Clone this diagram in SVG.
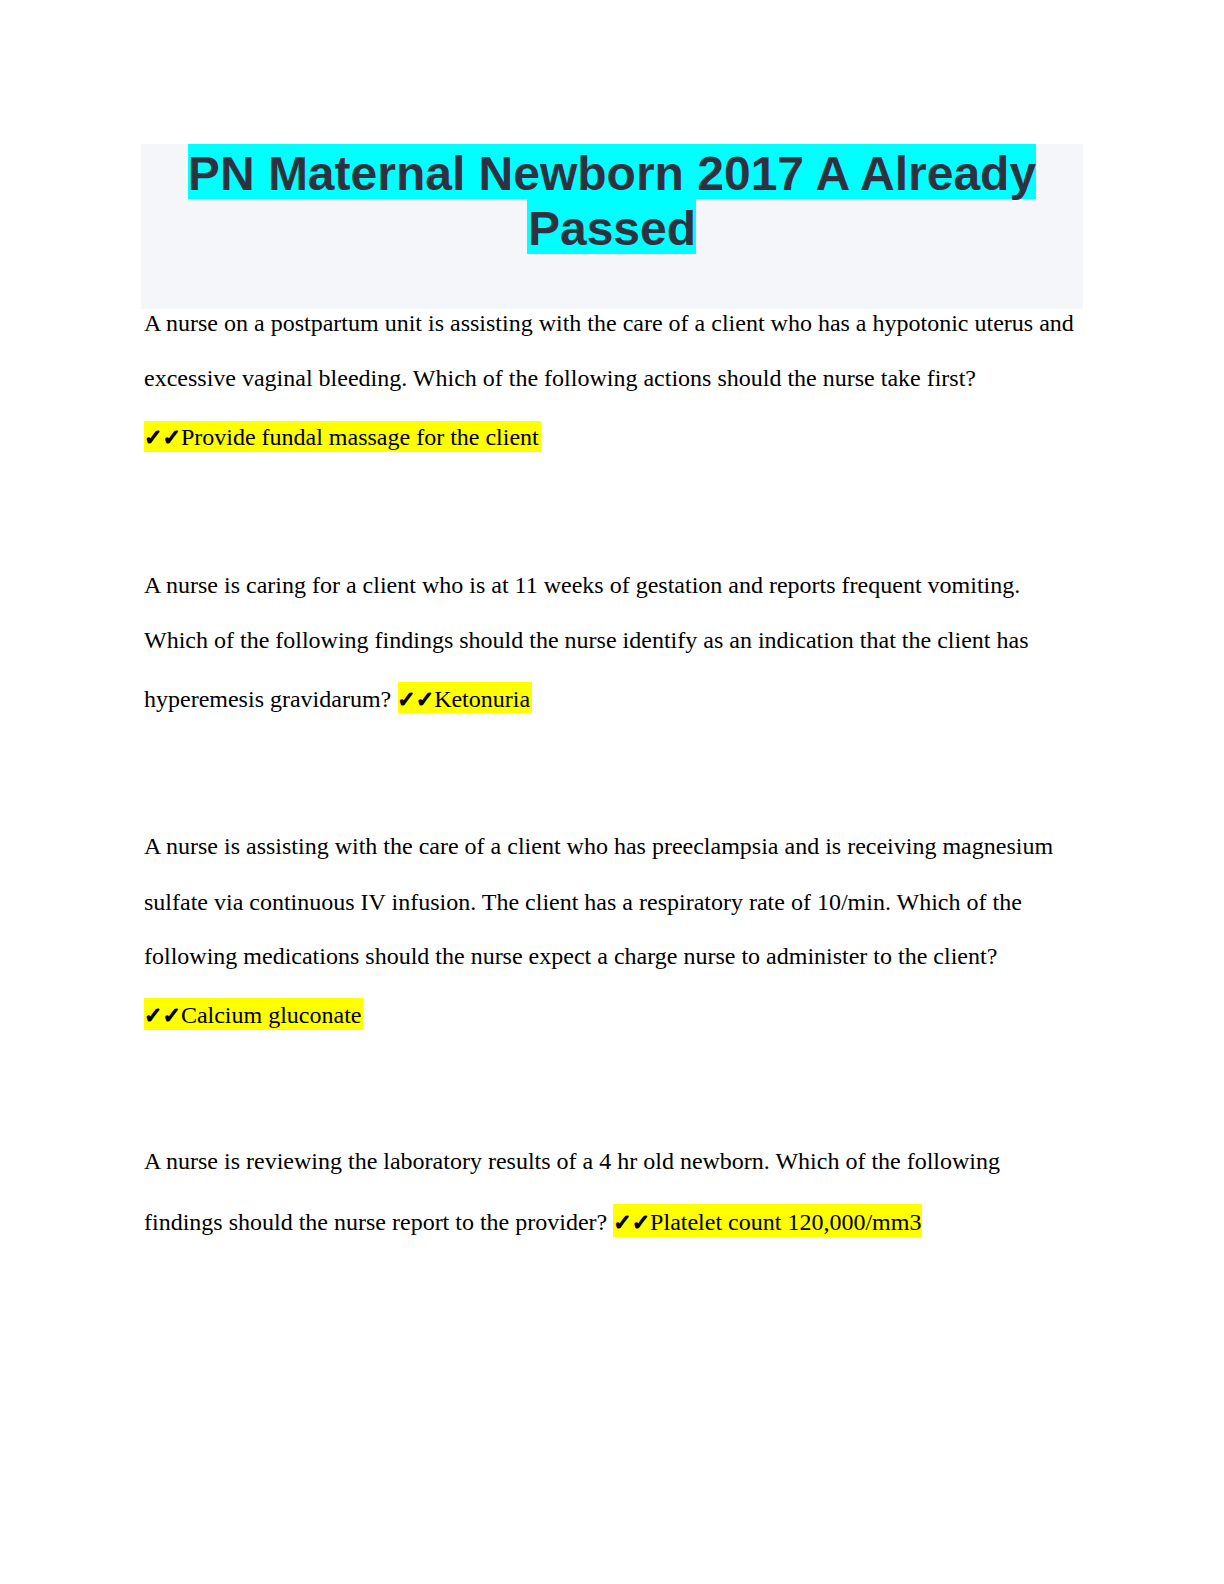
<svg xmlns="http://www.w3.org/2000/svg" width="1224" height="1584" viewBox="0 0 1224 1584">
<style>
.body{font-family:"Liberation Serif","Times New Roman",serif;font-size:24px;fill:#000}
.title{font-family:"Liberation Sans",Arial,sans-serif;font-size:48px;font-weight:bold;fill:#2e3240}
.chk{font-family:"DejaVu Sans",sans-serif;font-size:22px;font-weight:bold;stroke:#000;stroke-width:1.4;stroke-linejoin:round}
.hy{fill:#ffff00}
.hc{fill:#00ffff}
</style>
<rect width="1224" height="1584" fill="#ffffff"/>
<g id="header">
<rect x="141" y="144" width="942" height="165" fill="#f5f6fa"/>
<rect class="hc" x="188" y="144" width="848" height="55"/>
<rect class="hc" x="527" y="199" width="169" height="55"/>
<text class="title" x="612" y="190" text-anchor="middle">PN Maternal Newborn 2017 A Already</text>
<text class="title" x="612" y="245" text-anchor="middle">Passed</text>
</g>
<g id="q1">
<rect class="hy" x="144" y="421" width="397" height="31"/>
<text class="body" x="144" y="331">A nurse on a postpartum unit is assisting with the care of a client who has a hypotonic uterus and</text>
<text class="body" x="144" y="386">excessive vaginal bleeding. Which of the following actions should the nurse take first?</text>
<text class="body" x="144" y="445"><tspan class="chk">✓✓</tspan>Provide fundal massage for the client</text>
</g>
<g id="q2">
<rect class="hy" x="398" y="682" width="134" height="31"/>
<text class="body" x="144" y="593">A nurse is caring for a client who is at 11 weeks of gestation and reports frequent vomiting.</text>
<text class="body" x="144" y="648">Which of the following findings should the nurse identify as an indication that the client has</text>
<text class="body" x="144" y="707">hyperemesis gravidarum? <tspan class="chk">✓✓</tspan>Ketonuria</text>
</g>
<g id="q3">
<rect class="hy" x="144" y="998" width="219" height="32"/>
<text class="body" x="144" y="854">A nurse is assisting with the care of a client who has preeclampsia and is receiving magnesium</text>
<text class="body" x="144" y="910">sulfate via continuous IV infusion. The client has a respiratory rate of 10/min. Which of the</text>
<text class="body" x="144" y="964">following medications should the nurse expect a charge nurse to administer to the client?</text>
<text class="body" x="144" y="1023"><tspan class="chk">✓✓</tspan>Calcium gluconate</text>
</g>
<g id="q4">
<rect class="hy" x="613" y="1204" width="309" height="33"/>
<text class="body" x="144" y="1169">A nurse is reviewing the laboratory results of a 4 hr old newborn. Which of the following</text>
<text class="body" x="144" y="1230">findings should the nurse report to the provider? <tspan class="chk">✓✓</tspan>Platelet count 120,000/mm3</text>
</g>
<g id="connectors"/>
</svg>
